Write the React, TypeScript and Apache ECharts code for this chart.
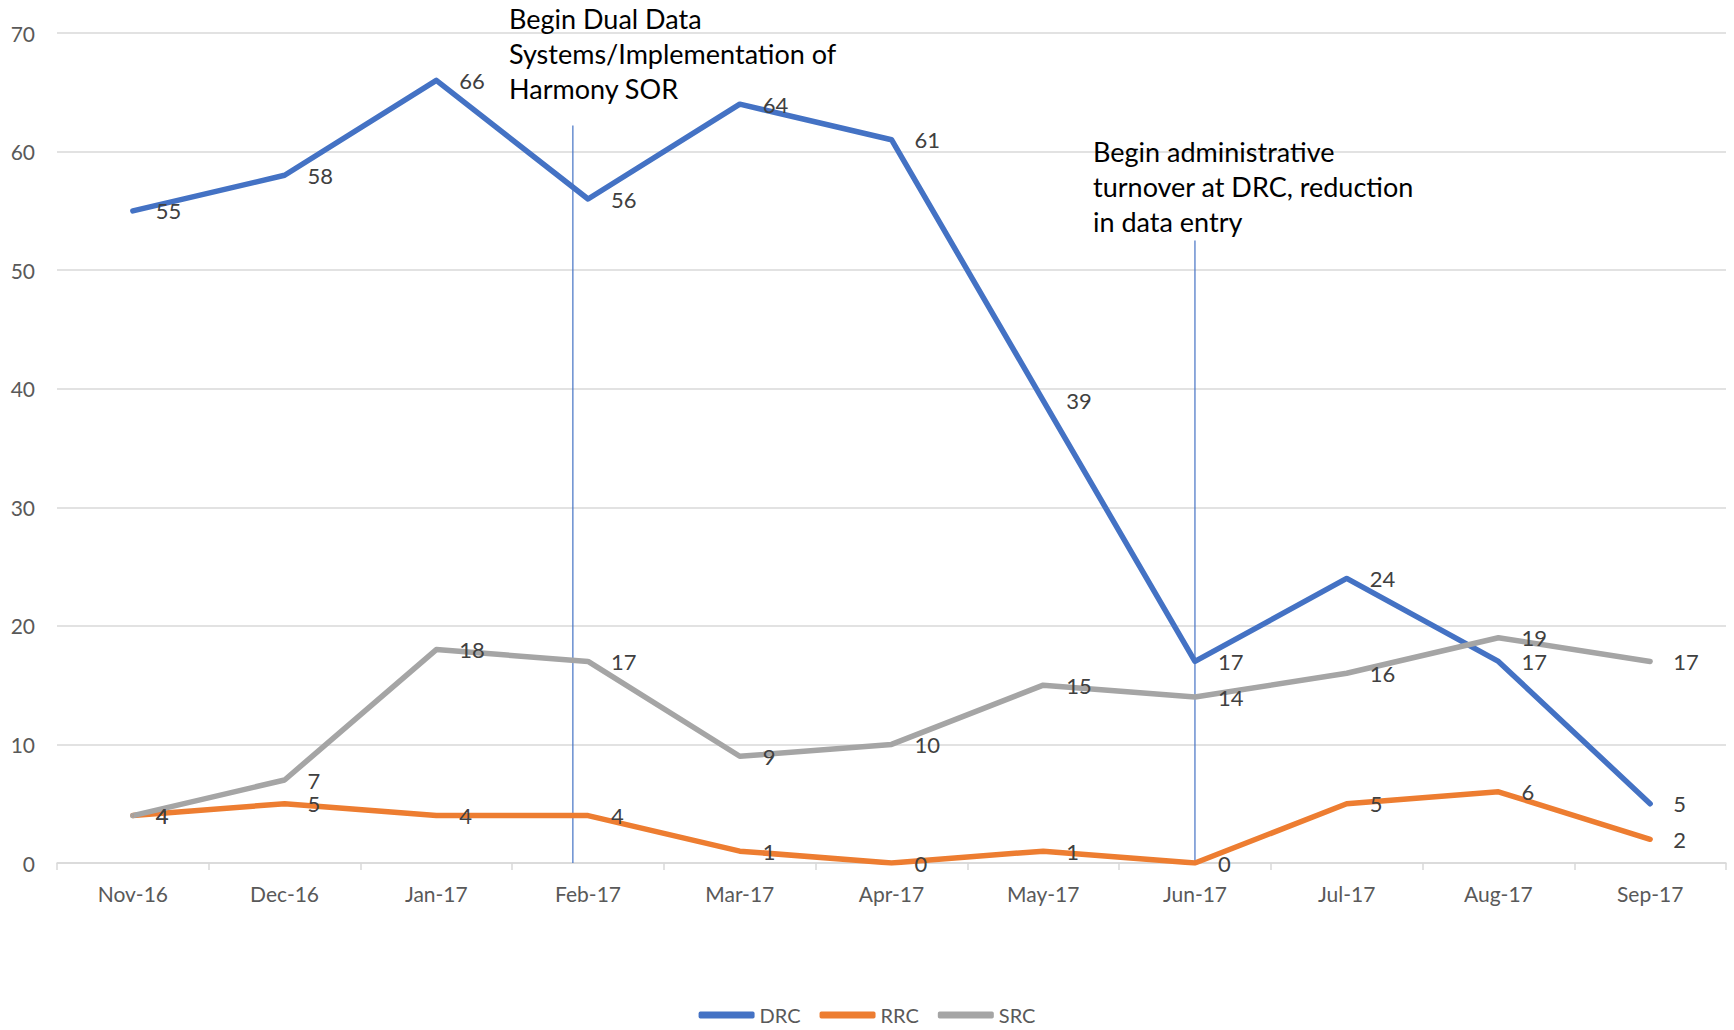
import React, { useEffect, useRef } from "react";
import * as echarts from "echarts";

const months = ["Nov-16", "Dec-16", "Jan-17", "Feb-17", "Mar-17", "Apr-17", "May-17", "Jun-17", "Jul-17", "Aug-17", "Sep-17"];
const drc = [55, 58, 66, 56, 64, 61, 39, 17, 24, 17, 5];
const rrc = [4, 5, 4, 4, 1, 0, 1, 0, 5, 6, 2];
const src = [4, 7, 18, 17, 9, 10, 15, 14, 16, 19, 17];
const yTicks = { min: 0, max: 70, interval: 10 };

const annotation1 = ["Begin Dual Data", "Systems/Implementation of", "Harmony SOR"];
const annotation2 = ["Begin administrative", "turnover at DRC, reduction", "in data entry"];
const markers = [
  { month: "Feb-17", shift: -0.1, top: 62.2 },
  { month: "Jun-17", shift: 0, top: 52.5 },
];

const FONT = "Lato, 'Noto Sans', sans-serif";
const COLORS = ["#4472C4", "#ED7D31", "#A5A5A5"];

export default function App() {
  const ref = useRef<HTMLDivElement>(null);
  useEffect(() => {
    if (!ref.current) return;
    const chart = echarts.init(ref.current, null, { renderer: "svg" });
    const mkSeries = (name: string, data: number[], color: string) => ({
      name,
      type: "line",
      data,
      symbol: "circle",
      symbolSize: 2,
      itemStyle: { color },
      lineStyle: { color, width: 5.5, cap: "round", join: "round" },
      label: {
        show: true,
        position: "right",
        distance: 22,
        color: "#404040",
        fontSize: 22,
        fontFamily: FONT,
      },
      z: 3,
    });
    chart.setOption({
      animation: false,
      backgroundColor: "#fff",
      color: COLORS,
      grid: { left: 57, right: 8, top: 33, bottom: 167, containLabel: false },
      legend: {
        bottom: 0,
        left: "center",
        icon: "roundRect",
        itemWidth: 56,
        itemHeight: 7,
        itemGap: 19,
        textStyle: { color: "#595959", fontSize: 20, fontFamily: FONT },
        data: ["DRC", "RRC", "SRC"],
      },
      xAxis: {
        type: "category",
        data: months,
        boundaryGap: true,
        axisLine: { lineStyle: { color: "#D9D9D9", width: 1.5 } },
        axisTick: { show: true, length: 7, lineStyle: { color: "#D9D9D9", width: 1.5 } },
        axisLabel: { color: "#595959", fontSize: 21, fontFamily: FONT, margin: 20 },
      },
      yAxis: {
        type: "value",
        min: yTicks.min,
        max: yTicks.max,
        interval: yTicks.interval,
        axisLine: { show: false },
        axisTick: { show: false },
        splitLine: { lineStyle: { color: "#D9D9D9", width: 1.5 } },
        axisLabel: { color: "#595959", fontSize: 21, fontFamily: FONT, margin: 22 },
      },
      series: [mkSeries("DRC", drc, COLORS[0]), mkSeries("RRC", rrc, COLORS[1]), mkSeries("SRC", src, COLORS[2])],
    });

    const bandW = (chart.getWidth() - 57 - 8) / months.length;
    const graphics: any[] = [];
    markers.forEach((m) => {
      const cx = chart.convertToPixel({ xAxisIndex: 0 }, m.month) as number;
      const x = cx + m.shift * bandW;
      const y0 = chart.convertToPixel({ yAxisIndex: 0 }, 0) as number;
      const y1 = chart.convertToPixel({ yAxisIndex: 0 }, m.top) as number;
      graphics.push({
        type: "line",
        shape: { x1: x, y1: y0, x2: x, y2: y1 },
        style: { stroke: "#4472C4", lineWidth: 1.2 },
        z: 2,
      });
    });
    const textBlock = (lines: string[], x: number, y: number) => ({
      type: "text",
      left: x,
      top: y,
      style: {
        text: lines.join("\n"),
        fill: "#000",
        fontSize: 27,
        lineHeight: 35,
        fontFamily: FONT,
      },
      z: 10,
    });
    graphics.push(textBlock(annotation1, 509, 1));
    graphics.push(textBlock(annotation2, 1093, 134));
    chart.setOption({ graphic: graphics });

    return () => chart.dispose();
  }, []);
  return (
    <div
      ref={ref}
      style={{ position: "fixed", left: 0, top: 0, width: 1734, height: 1030, background: "#fff" }}
    />
  );
}
